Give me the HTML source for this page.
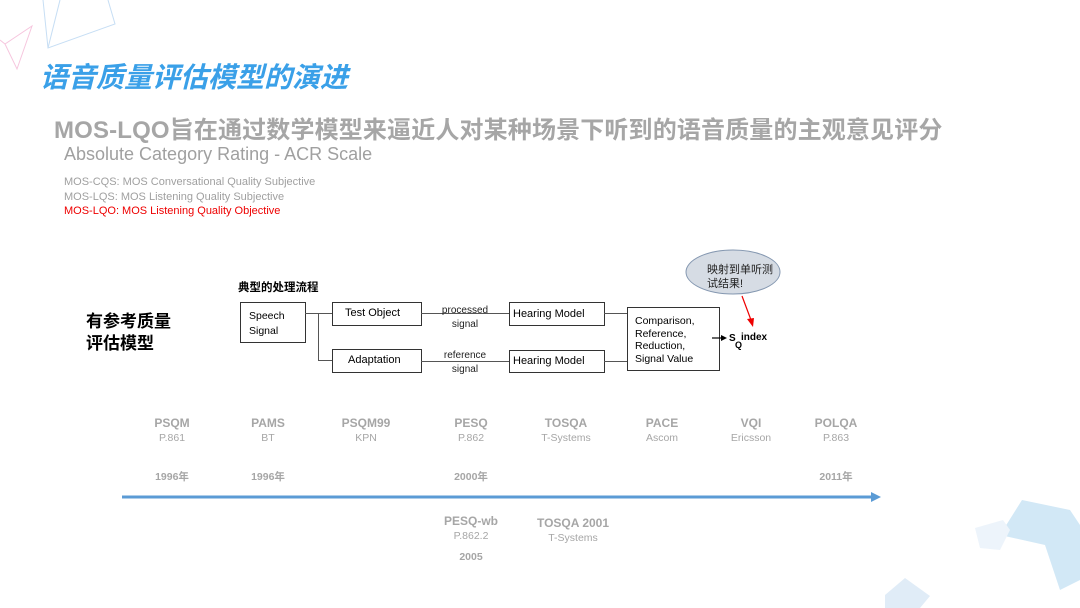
<!DOCTYPE html>
<html><head><meta charset="utf-8"><style>
body{margin:0;width:1080px;height:608px;background:#fff;position:relative;overflow:hidden;font-family:"Liberation Sans","Noto Sans CJK SC",sans-serif}
.a{position:absolute;white-space:nowrap}
.c{position:absolute;white-space:nowrap;transform:translateX(-50%);text-align:center;color:#a6a6a6}
.n{font-size:12px;font-weight:bold}
.s{font-size:10.5px}
.y{font-size:10.5px;font-weight:bold}
</style></head><body>
<svg class="a" style="left:0;top:0" width="1080" height="608">
<g stroke="#b9d6f2" stroke-width="1" fill="none" opacity=".8">
<polyline points="43,0 48,48 115,24 108,0"/><line x1="48" y1="48" x2="60" y2="0"/>
</g>
<g stroke="#f6c6de" stroke-width="1" fill="none"><polyline points="0,40 5,44 32,26 17,69 5,44"/></g>
<polygon points="1022,500 1070,510 1080,525 1080,580 1060,590 1045,545 1000,535" fill="#d2e8f6"/>
<polygon points="975,528 1003,520 1010,530 1000,550 980,548" fill="#edf4fb"/>
<polygon points="885,595 905,578 930,596 920,608 885,608" fill="#e0ecf7"/>
<line x1="122" y1="497" x2="872" y2="497" stroke="#5b9bd5" stroke-width="3"/>
<polygon points="871,492 881,497 871,502" fill="#5b9bd5"/>
<g stroke="#333" stroke-width="1" fill="#fff">
<rect x="240.5" y="302.5" width="65" height="40"/>
<rect x="332.5" y="302.5" width="89" height="23"/>
<rect x="332.5" y="349.5" width="89" height="23"/>
<rect x="509.5" y="302.5" width="95" height="23"/>
<rect x="509.5" y="350.5" width="95" height="22"/>
<rect x="627.5" y="307.5" width="92" height="63"/>
</g>
<g stroke="#555" stroke-width="1" fill="none">
<polyline points="305,313.5 332,313.5"/><polyline points="318.5,313 318.5,360.5 332,360.5"/>
<line x1="421" y1="313.5" x2="509" y2="313.5"/><line x1="421" y1="361.5" x2="509" y2="361.5"/>
<line x1="604" y1="313.5" x2="627" y2="313.5"/><line x1="604" y1="361.5" x2="627" y2="361.5"/>
</g>
<line x1="712" y1="338" x2="722" y2="338" stroke="#000" stroke-width="1.2"/>
<polygon points="721,335 727,338 721,341" fill="#000"/>
<ellipse cx="733" cy="272" rx="47" ry="22" fill="#d6dce4" stroke="#8497b0"/>
<line x1="742" y1="296" x2="751" y2="320" stroke="#e00" stroke-width="1.2"/>
<polygon points="747,319 753,327 754,318" fill="#e00"/>
</svg>
<div class="a" style="left:40px;top:56px;font-size:28px;font-weight:bold;font-style:italic;color:#3aa0e8">语音质量评估模型的演进</div>
<div class="a" style="left:54px;top:110px;font-size:24px;font-weight:bold;color:#a6a6a6;letter-spacing:0.15px">MOS-LQO旨在通过数学模型来逼近人对某种场景下听到的语音质量的主观意见评分</div>
<div class="a" style="left:64px;top:144px;font-size:18px;color:#a0a0a0">Absolute Category Rating - ACR Scale</div>
<div class="a" style="left:64px;top:175px;font-size:11px;line-height:14.5px;color:#a0a0a0">MOS-CQS: MOS Conversational Quality Subjective<br>MOS-LQS: MOS Listening Quality Subjective<br><span style="color:#e00">MOS-LQO: MOS Listening Quality Objective</span></div>
<div class="a" style="left:238px;top:279px;font-size:11.5px;font-weight:bold">典型的处理流程</div>
<div class="a" style="left:86px;top:311px;font-size:17px;font-weight:bold;line-height:22px">有参考质量<br>评估模型</div>
<div class="a" style="left:249px;top:309px;font-size:10.5px;line-height:15px">Speech<br>Signal</div>
<div class="a" style="left:345px;top:307px;font-size:11px">Test Object</div>
<div class="a" style="left:348px;top:354px;font-size:11px">Adaptation</div>
<div class="a" style="left:513px;top:308px;font-size:11px">Hearing Model</div>
<div class="a" style="left:513px;top:355px;font-size:11px">Hearing Model</div>
<div class="c" style="left:465px;top:304px;font-size:10px;color:#222;line-height:14px">processed<br>signal</div>
<div class="c" style="left:465px;top:349px;font-size:10px;color:#222;line-height:14px">reference<br>signal</div>
<div class="a" style="left:635px;top:315px;font-size:10.5px;line-height:12.5px">Comparison,<br>Reference,<br>Reduction,<br>Signal Value</div>
<div class="a" style="left:729px;top:333px;font-size:10px;font-weight:bold">S</div>
<div class="a" style="left:735px;top:340px;font-size:9px;font-weight:bold">Q</div>
<div class="a" style="left:741px;top:332px;font-size:10px;font-weight:bold">index</div>
<div class="a" style="left:707px;top:263px;font-size:11px;line-height:14px;color:#222">映射到单听测<br>试结果!</div>
<div class="c n" style="left:172px;top:416px">PSQM</div><div class="c s" style="left:172px;top:432px">P.861</div><div class="c y" style="left:172px;top:469px">1996年</div>
<div class="c n" style="left:268px;top:416px">PAMS</div><div class="c s" style="left:268px;top:432px">BT</div><div class="c y" style="left:268px;top:469px">1996年</div>
<div class="c n" style="left:366px;top:416px">PSQM99</div><div class="c s" style="left:366px;top:432px">KPN</div>
<div class="c n" style="left:471px;top:416px">PESQ</div><div class="c s" style="left:471px;top:432px">P.862</div><div class="c y" style="left:471px;top:469px">2000年</div>
<div class="c n" style="left:566px;top:416px">TOSQA</div><div class="c s" style="left:566px;top:432px">T-Systems</div>
<div class="c n" style="left:662px;top:416px">PACE</div><div class="c s" style="left:662px;top:432px">Ascom</div>
<div class="c n" style="left:751px;top:416px">VQI</div><div class="c s" style="left:751px;top:432px">Ericsson</div>
<div class="c n" style="left:836px;top:416px">POLQA</div><div class="c s" style="left:836px;top:432px">P.863</div><div class="c y" style="left:836px;top:469px">2011年</div>
<div class="c n" style="left:471px;top:514px">PESQ-wb</div><div class="c s" style="left:471px;top:530px">P.862.2</div><div class="c y" style="left:471px;top:551px">2005</div>
<div class="c n" style="left:573px;top:516px">TOSQA 2001</div><div class="c s" style="left:573px;top:532px">T-Systems</div>
</body></html>
